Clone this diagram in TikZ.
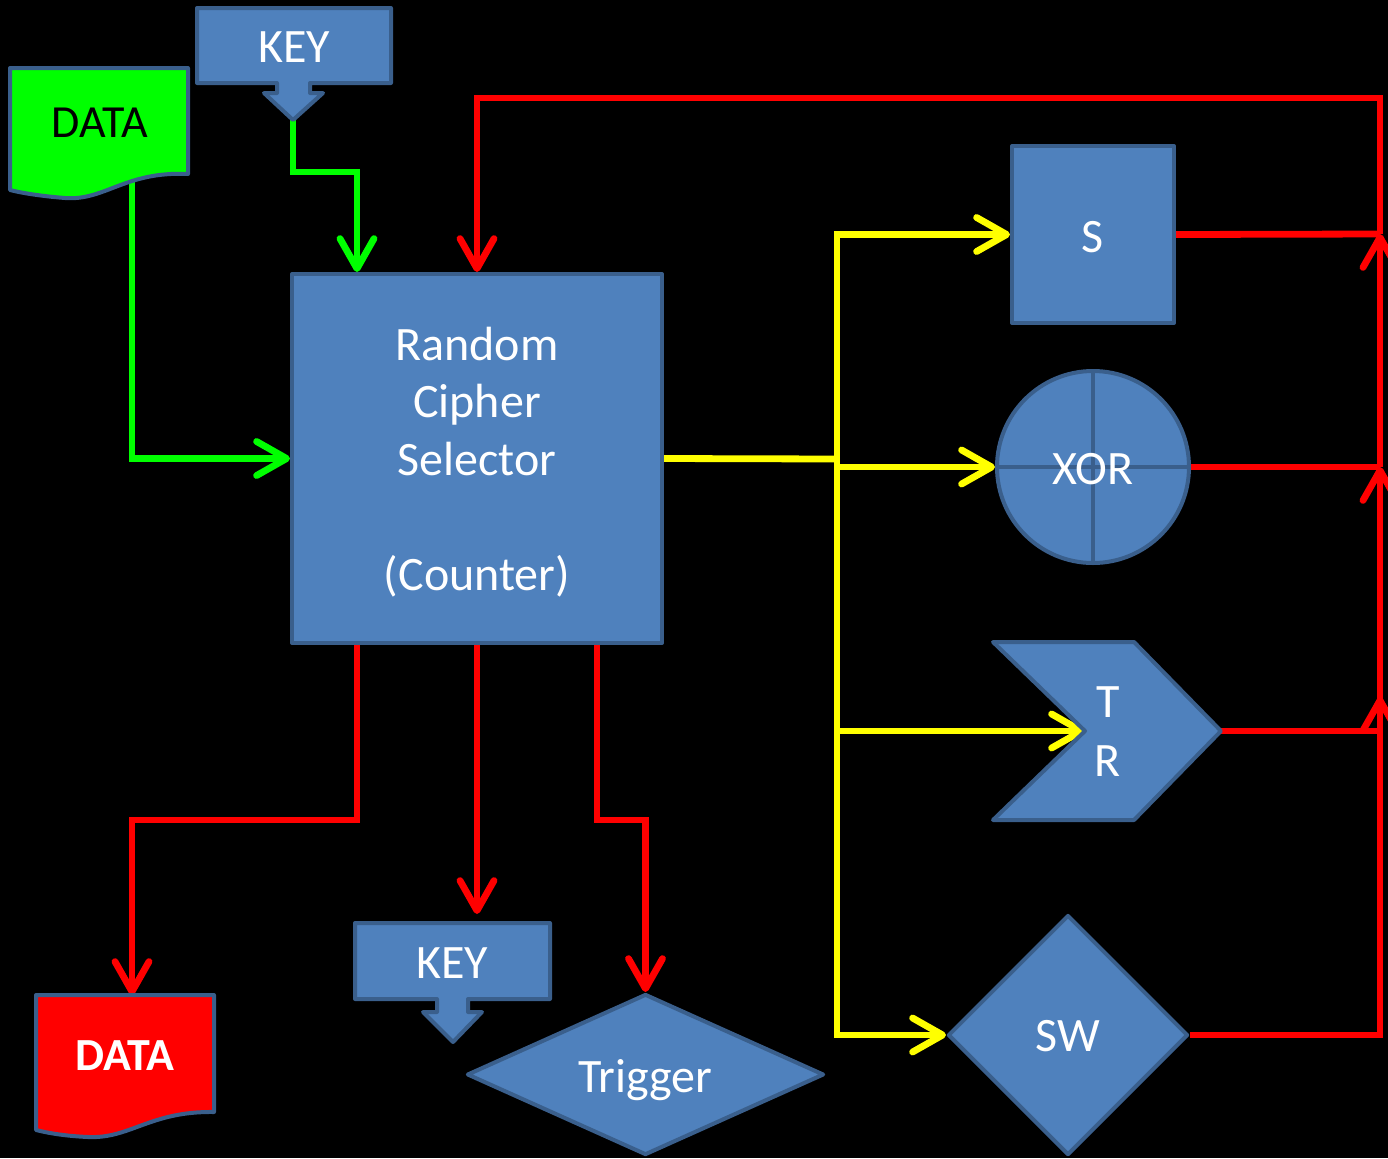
\documentclass[tikz,border=0pt]{standalone}
\usepackage{fontspec}
\setmainfont{Carlito}
\usetikzlibrary{arrows.meta,shapes.geometric}
\definecolor{boxblue}{HTML}{4F81BD}
\definecolor{boxedge}{HTML}{3A5F8C}
\definecolor{lgreen}{HTML}{00FF00}
\definecolor{lred}{HTML}{FF0000}
\definecolor{lyellow}{HTML}{FFFF00}
\pgfdeclarelayer{bg}
\pgfsetlayers{bg,main}
\begin{document}
\begin{tikzpicture}[x=0.5pt,y=-0.5pt,
  blk/.style={fill=boxblue,draw=boxedge,line width=2pt,line join=round,inner sep=0pt},
  lbl/.style={text=white,font=\fontsize{24}{29}\selectfont,inner sep=0pt},
  wire/.style={line width=3.4pt,line join=miter},
  rail/.style={wire,line cap=rect},
  arr/.style={-{Straight Barb[length=15pt,width=17pt,line cap=round,line join=round]}}]
\useasboundingbox (0,0) rectangle (1388,1158);
\begin{pgfonlayer}{bg}
\fill[black] (0,0) rectangle (1388,1158);
\end{pgfonlayer}

% --- shapes ---
% top KEY with arrow
\draw[blk] (197,8) -- (391,8) -- (391,83) -- (310,83) -- (310,93) -- (323,93) -- (293,120) -- (264,93) -- (277,93) -- (277,83) -- (197,83) -- cycle;
\node[lbl,anchor=base] (kA) at (294,62) {KEY};
\coordinate (kAtip) at (293,120);

% green DATA document
\draw[blk,fill=lgreen] (10,68) -- (188,68) -- (188,174) .. controls (125,171) and (105,201) .. (65,198) .. controls (40,196) and (22,193) .. (10,190) -- cycle;
\node[lbl,text=black,anchor=base,font=\fontsize{23}{28}\selectfont] (dIn) at (100,137) {DATA};
\coordinate (dInB) at (132,180);

% main selector
\node[blk,minimum width=185pt,minimum height=184.5pt] (csel) at (477,458.5) {};
\node[lbl,align=center,font=\fontsize{24}{28.75}\selectfont] (cselt) at (477,462) {Random\\Cipher\\Selector\\[28.75pt](Counter)};

% S box
\node[blk,minimum width=81pt,minimum height=88.5pt] (S) at (1093,234.5) {};
\node[lbl,anchor=base] (St) at (1093,252) {S};

% XOR circle
\node[blk,circle,minimum size=96pt] (xor) at (1093,467) {};
\draw[boxedge,line width=2pt] (xor.north) -- (xor.south) (xor.west) -- (xor.east);
\node[lbl,anchor=base] (xort) at (1093,484) {XOR};

% TR chevron
\draw[blk] (993,642) -- (1134,642) -- (1221,731) -- (1134,820) -- (993,820) -- (1085,731) -- cycle;
\node[lbl,align=center,font=\fontsize{24}{29.5}\selectfont] (tr) at (1108,731.5) {T\\R};
\coordinate (trN) at (1085,731);
\coordinate (trE) at (1221,731);

% SW diamond
\node[blk,diamond,minimum width=120pt,minimum height=120pt] (sw) at (1068,1035) {};
\node[lbl,anchor=base] (swt) at (1068,1051) {SW};

% Trigger diamond
\node[blk,diamond,minimum width=178.5pt,minimum height=80.5pt] (trig) at (645.5,1074.5) {};
\node[lbl,anchor=base] (trigt) at (645.5,1092) {Trigger};

% bottom KEY with arrow
\draw[blk] (355,923) -- (550,923) -- (550,999) -- (468,999) -- (468,1012) -- (482,1012) -- (453,1042) -- (423,1012) -- (437,1012) -- (437,999) -- (355,999) -- cycle;
\node[lbl,anchor=base] (kB) at (452,978) {KEY};
\coordinate (kBin) at (477,914);

% red DATA document
\draw[blk,fill=lred] (36,995) -- (214,995) -- (214,1112) .. controls (150,1111) and (130,1139) .. (88,1137) .. controls (65,1136) and (48,1133) .. (36,1130) -- cycle;
\node[lbl,anchor=base,font=\fontsize{23}{28}\selectfont\bfseries] (dOut) at (125,1070) {DATA};
\coordinate (dOutT) at (132,995);

% rail coordinates
\coordinate (yb) at (837,459);
\coordinate (rTop) at (1380,98);
\coordinate (junS) at (1380,234);
\coordinate (junX) at (1380,467);
\coordinate (junT) at (1380,731);
\coordinate (tipT) at (1380,697);
\coordinate (junW) at (1380,1035);

% --- connectors ---
\begin{pgfonlayer}{bg}
% green
\draw[wire,lgreen,arr] (dInB) |- (csel.west);
\draw[wire,lgreen,arr] (kAtip) -- ++(0,52) -| ([xshift=-60pt]csel.north);
% yellow
\draw[wire,lyellow] (csel.east) -- (yb);
\draw[rail,lyellow] (yb |- S.west) -- (yb |- sw.west);
\draw[wire,lyellow,arr] (yb |- S.west) -- (S.west);
\draw[wire,lyellow,arr] (yb |- xor.west) -- (xor.west);
\draw[wire,lyellow,arr] (yb |- trN) -- (trN);
\draw[wire,lyellow,arr] (yb |- sw.west) -- (sw.west);
% red feedback
\draw[wire,lred,arr] (junS) -- (rTop) -| (csel.north);
\draw[wire,lred] (S.east) -- (junS);
\draw[wire,lred,arr] (junX) -- (junS);
\draw[wire,lred] (xor.east) -- (junX);
\draw[wire,lred,arr] (junT) -- (junX);
\draw[wire,lred] (trE) -- (junT);
\draw[wire,lred,arr] (sw.east) -- (junW) -- (tipT);
% red outputs
\draw[wire,lred,arr] ([xshift=-60pt]csel.south) -- ++(0,175) -| (dOutT);
\draw[wire,lred,arr] (csel.south) -- (kBin);
\draw[wire,lred,arr] ([xshift=60pt]csel.south) -- ++(0,175) -| (trig.north);
\end{pgfonlayer}
\end{tikzpicture}
\end{document}
